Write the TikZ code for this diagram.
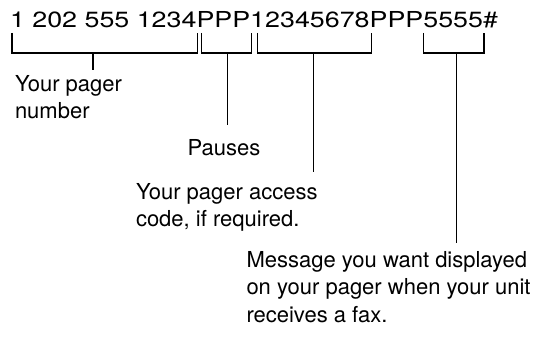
\documentclass[tikz,border=0pt]{standalone}
\usepackage{fontspec}
\setmainfont{TeX Gyre Heros}
\newfontfamily\widedial[FakeStretch=1.22]{TeX Gyre Heros}
\usetikzlibrary{positioning}

\tikzset{
  dialpart/.style={inner sep=0pt, outer sep=0pt, font=\widedial\fontsize{22}{27.5}\selectfont},
  note/.style={inner sep=0pt, outer sep=0pt, align=left, font=\fontsize{22}{27.5}\selectfont},
  brace/.style={line width=1.2pt},
}

\begin{document}
\begin{tikzpicture}[x=1pt,y=-1pt]
    \useasboundingbox (0,0) rectangle (543,345);
    % dialling string, one node per part
    \node[dialpart, anchor=base west] (dial) at (10,28) {1 202 555 1234};
    \node[dialpart, base right=0pt of dial] (pause) {PPP};
    \node[dialpart, base right=0pt of pause] (acc) {12345678};
    \node[dialpart, base right=0pt of acc] (pause2) {PPP};
    \node[dialpart, base right=0pt of pause2] (msg) {5555};
    \node[dialpart, base right=0pt of msg] (hash) {\#};
    % brackets under the parts: node / left inset / right inset / stem position
    \foreach \n/\l/\r/\p in {dial/2/1/0.437, pause/5/1.5/0.52, acc/7/2/0.49, msg/0/1/0.55} {
      \draw[brace] ([shift={(\l,5)}]\n.base west) -- ([shift={(\l,25)}]\n.base west)
        -- coordinate[pos=\p] (\n-tip) ([shift={(\r,25)}]\n.base east)
        -- ([shift={(\r,5)}]\n.base east);
    }
    % Labels
    \node[note, anchor=north west] (numtext) at (15,75) {Your pager\\number};
    \node[note, anchor=north] (pausetext) at (224,139) {Pauses};
    \node[note, anchor=north west] (acctext) at (136,183) {Your pager access\\code, if required.};
    \node[note, anchor=north west] (msgtext) at (246.5,251) {Message you want displayed\\on your pager when your unit\\receives a fax.};
    % Stems
    \draw[brace, shorten >=5pt] (dial-tip) -- (dial-tip |- numtext.north);
    \draw[brace, shorten >=14pt] (pause-tip) -- (pause-tip |- pausetext.north);
    \draw[brace, shorten >=11pt] (acc-tip) -- (acc-tip |- acctext.north);
    \draw[brace, shorten >=8pt] (msg-tip) -- (msg-tip |- msgtext.north);
\end{tikzpicture}
\end{document}
